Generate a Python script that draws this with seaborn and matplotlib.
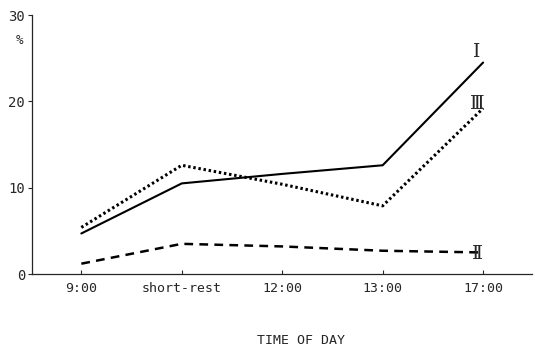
import matplotlib
matplotlib.use("Agg")
import matplotlib.pyplot as plt
import seaborn as sns
import pandas as pd

categories = ["9:00", "short-rest", "12:00", "13:00", "17:00"]
series_I = [4.7, 10.5, 11.6, 12.6, 24.5]
series_II = [1.2, 3.5, 3.2, 2.7, 2.5]
series_III = [5.4, 12.6, 10.4, 7.9, 19.2]
series_names = ["I", "II", "III"]
series_labels = ["\u2160", "\u2161", "\u2162"]
yticks = [0, 10, 20, 30]

rows = []
for name, vals in zip(series_names, [series_I, series_II, series_III]):
    for i, (c, v) in enumerate(zip(categories, vals)):
        rows.append({"pos": i, "time": c, "value": v, "series": name})
df = pd.DataFrame(rows)

sns.set_style("ticks")
plt.rcParams["font.family"] = ["DejaVu Sans Mono"]

fig = plt.figure(figsize=(5.35, 3.5), dpi=100)
ax = fig.add_axes([0.06, 0.217, 0.935, 0.74])

styles = {"I": "-", "II": (0, (3.5, 2.5)), "III": (0, (0.8, 0.9))}
widths = {"I": 1.5, "II": 1.8, "III": 2.2}
for name in series_names:
    sub = df[df["series"] == name]
    sns.lineplot(data=sub, x="pos", y="value", ax=ax, color="black",
                 linestyle=styles[name], linewidth=widths[name], legend=False)

ax.set_xlim(-0.49, 4.49)
ax.set_ylim(0, 30)
ax.set_xticks(range(len(categories)))
ax.set_xticklabels(categories, fontsize=9.5)
ax.set_yticks(yticks)
ax.set_yticklabels([str(t) for t in yticks], fontsize=10)
ax.tick_params(axis="x", direction="in", length=3, width=0.8, pad=6)
ax.tick_params(axis="y", direction="out", length=3, width=0.8, pad=2)
ax.set_xlabel("")
ax.set_ylabel("")
fig.text(0.563, 0.028, "TIME OF DAY", fontsize=9.5, ha="center", va="center")
for s in ["top", "right"]:
    ax.spines[s].set_visible(False)
for s in ["left", "bottom"]:
    ax.spines[s].set_linewidth(0.9)

fig.text(0.036, 0.883, "%", fontsize=9, ha="center", va="center")

last = len(categories) - 1
label_pos = {"I": 25.7, "II": 2.3, "III": 19.7}
for name, lab in zip(series_names, series_labels):
    ax.text(last - 0.06, label_pos[name], lab,
            family=["DejaVu Serif", "DejaVu Sans"],
            fontsize=13.5, ha="center", va="center")

fig.savefig("out.png", dpi=100)
